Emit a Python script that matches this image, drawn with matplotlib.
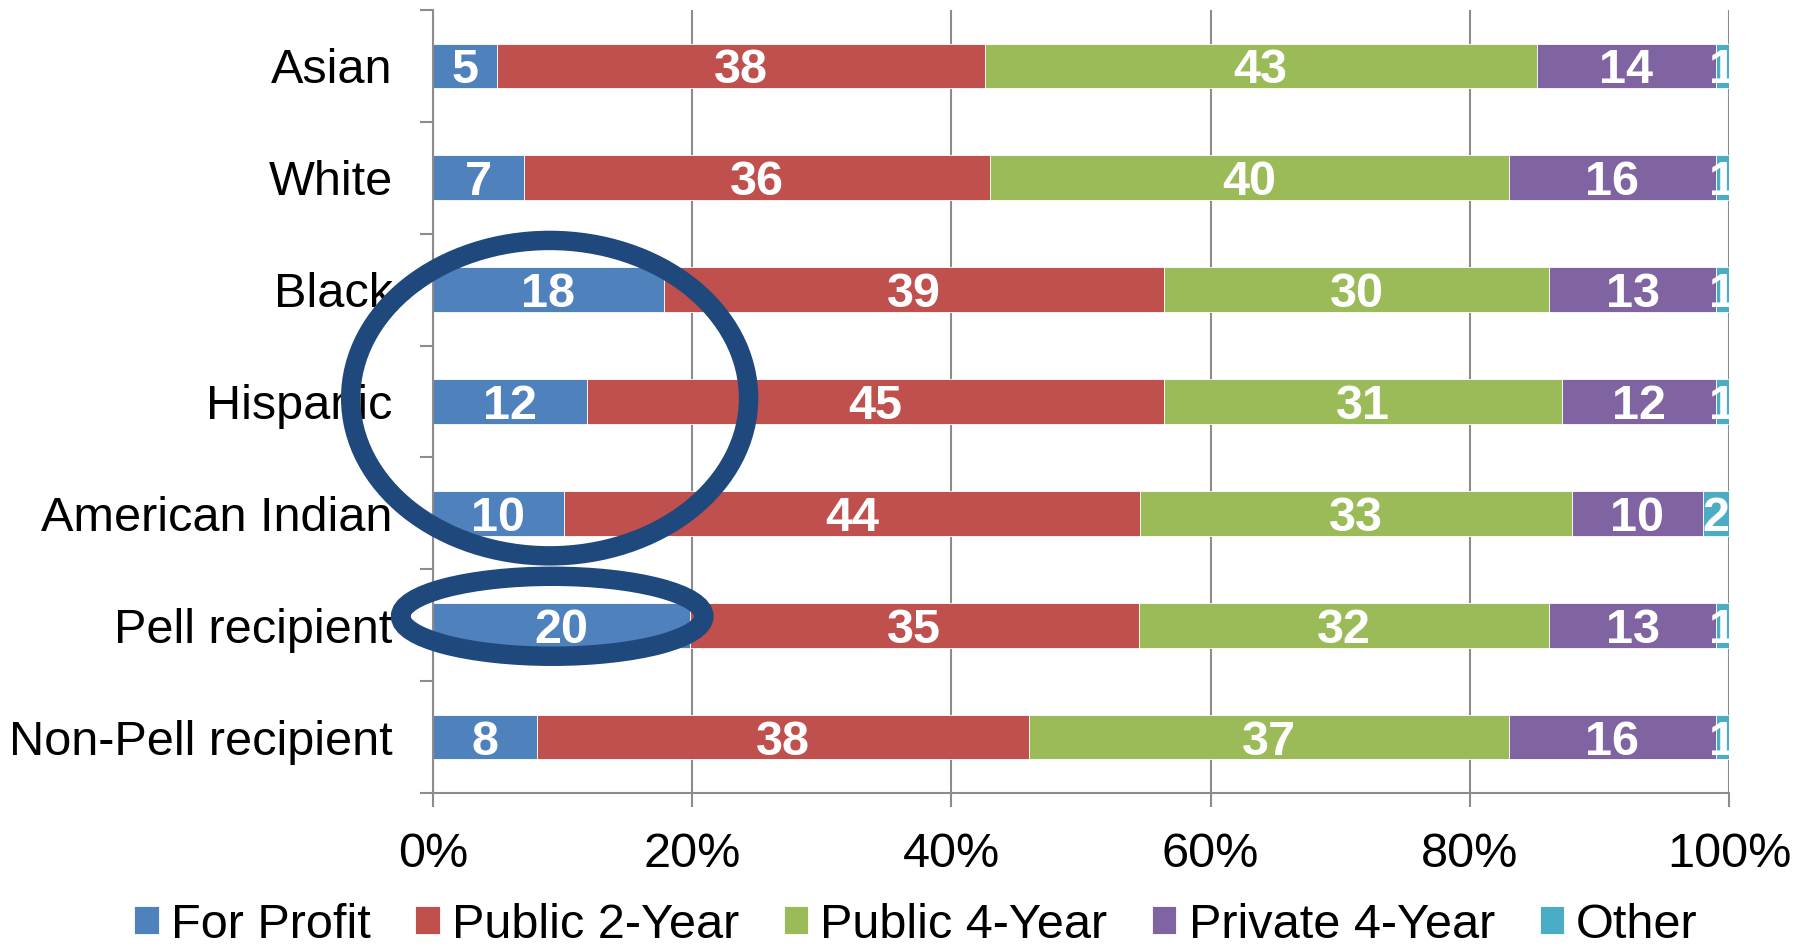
import numpy as np
import matplotlib
matplotlib.use("Agg")
import matplotlib.pyplot as plt
from matplotlib.patches import Ellipse

plt.rcParams['font.family'] = ['Liberation Sans', 'DejaVu Sans']

# ---- data (percent of students by sector) ----
groups = ['Asian', 'White', 'Black', 'Hispanic', 'American Indian',
          'Pell recipient', 'Non-Pell recipient']
sectors = ['For Profit', 'Public 2-Year', 'Public 4-Year', 'Private 4-Year', 'Other']
for_profit = [5, 7, 18, 12, 10, 20, 8]
public_2yr = [38, 36, 39, 45, 44, 35, 38]
public_4yr = [43, 40, 30, 31, 33, 32, 37]
private_4yr = [14, 16, 13, 12, 10, 13, 16]
other = [1, 1, 1, 1, 2, 1, 1]

colors = ['#4F81BD', '#C0504D', '#9BBB59', '#8064A2', '#4BACC6']
grid_gray = '#8C8C8C'
circle_color = '#1F497D'
fs = 35

# 100% stacked -> normalise each row
vals = np.array([for_profit, public_2yr, public_4yr, private_4yr, other], dtype=float)
pct = vals / vals.sum(axis=0) * 100

W, H = 1811, 947
fig = plt.figure(figsize=(W / 100, H / 100), dpi=100)
ax = fig.add_axes([433 / W, 1 - 793 / H, (1729 - 433) / W, (793 - 10) / H])

ypos = np.arange(len(groups))
left = np.zeros(len(groups))
for i, name in enumerate(sectors):
    ax.barh(ypos, pct[i], left=left, height=0.40, color=colors[i],
            edgecolor='white', linewidth=0.6, label=name, zorder=2)
    for j in range(len(groups)):
        ax.text(left[j] + pct[i][j] / 2, ypos[j], str(int(vals[i][j])),
                ha='center', va='center_baseline', color='white',
                fontsize=fs, fontweight='bold', clip_on=True, zorder=3)
    left += pct[i]

ax.set_xlim(0, 100)
ax.set_ylim(len(groups) - 0.5, -0.5)

# axes styling
ax.set_xticks(np.arange(0, 101, 20))
ax.set_xticklabels([f'{v}%' for v in range(0, 101, 20)])
ax.tick_params(axis='x', length=10, width=1.5, color=grid_gray, pad=18,
               labelsize=fs)
ax.set_yticks(ypos)
ax.set_yticklabels(groups)
ax.tick_params(axis='y', which='major', length=0, pad=29, labelsize=fs)
ax.set_yticks(np.arange(-0.5, len(groups)), minor=True)
ax.tick_params(axis='y', which='minor', length=9.5, width=1.5, color=grid_gray)

ax.xaxis.grid(True, color=grid_gray, linewidth=1.5)
ax.set_axisbelow(True)
for s in ['top', 'right']:
    ax.spines[s].set_visible(False)
for s in ['left', 'bottom']:
    ax.spines[s].set_color(grid_gray)
    ax.spines[s].set_linewidth(1.5)

# highlight circles
ax.add_patch(Ellipse((9.0, 2.97), 30.7, 2.82, fill=False, ec=circle_color,
                     lw=14, clip_on=False, zorder=6))
ax.add_patch(Ellipse((9.2, 4.92), 23.4, 0.715, fill=False, ec=circle_color,
                     lw=14, clip_on=False, zorder=6))

fig.legend(loc='center', bbox_to_anchor=(916 / W, 1 - 925 / H), ncol=5,
           frameon=False, fontsize=fs, handlelength=0.5, handleheight=0.5,
           handletextpad=0.25, columnspacing=0.92, borderpad=0)

fig.savefig('out.png', dpi=100)
